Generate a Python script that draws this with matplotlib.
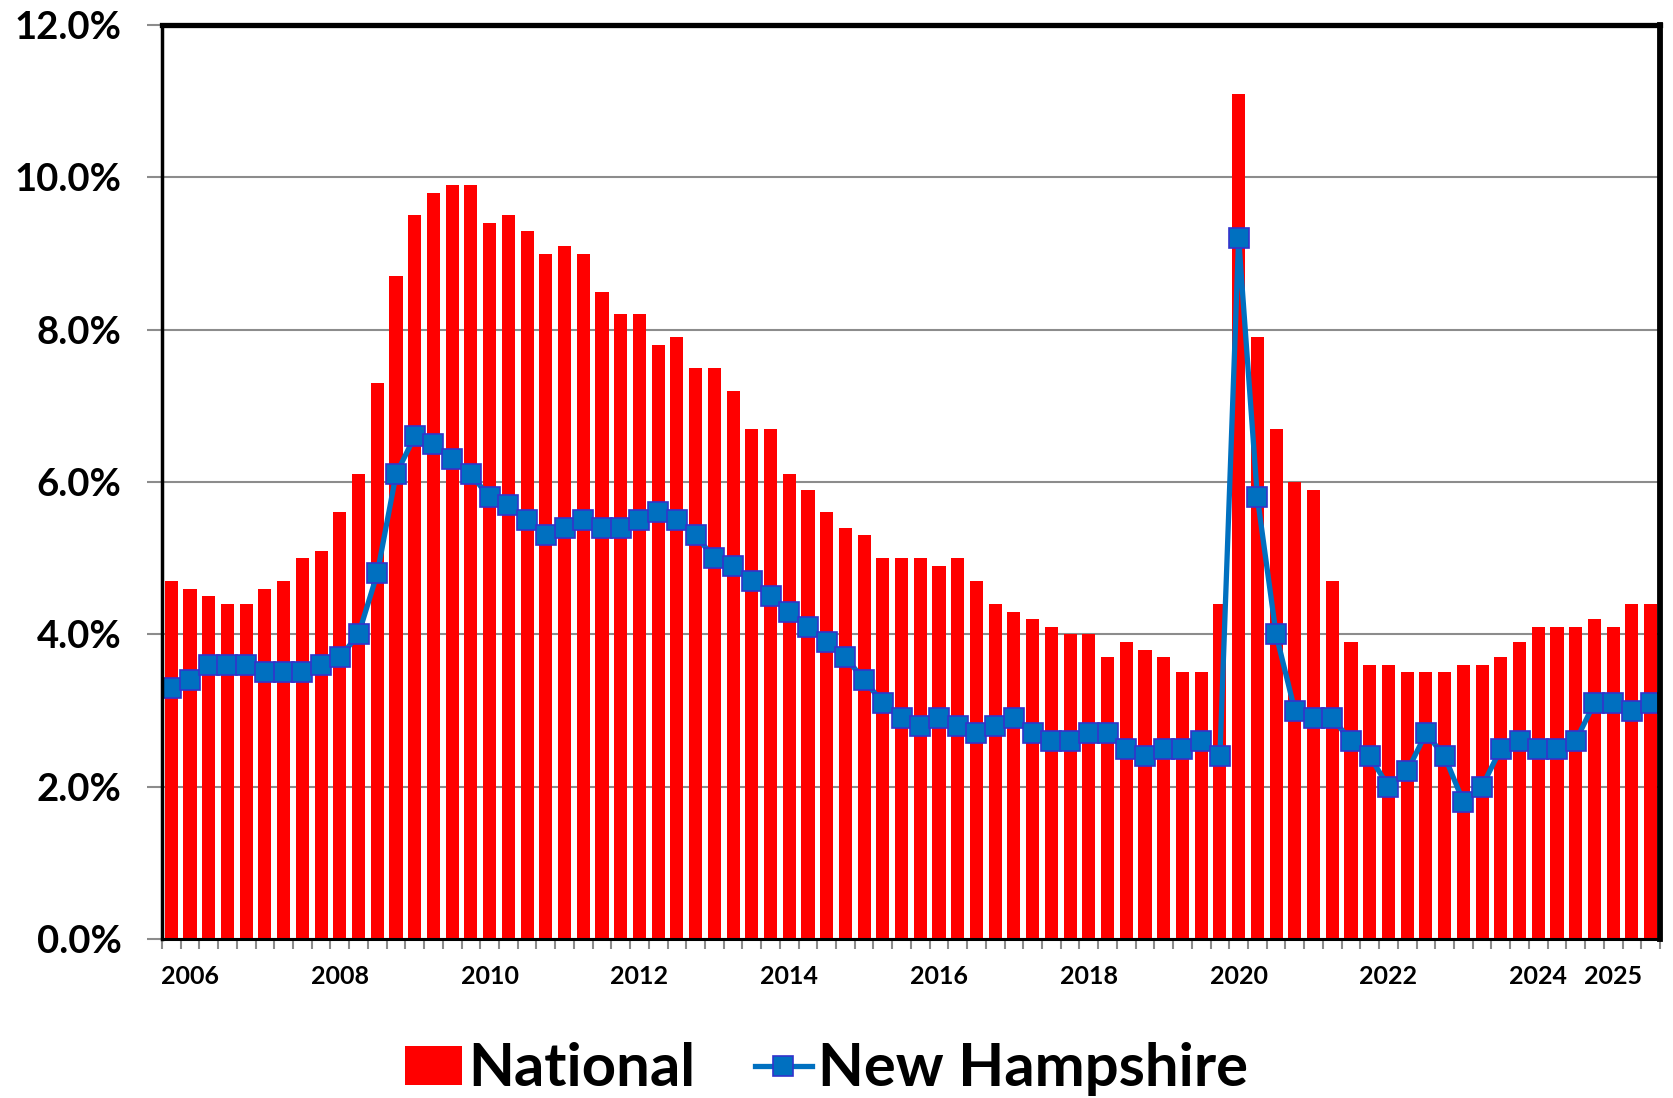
import numpy as np
import matplotlib
matplotlib.use('Agg')
import matplotlib.pyplot as plt
from matplotlib.ticker import FixedLocator, FuncFormatter

plt.rcParams['font.family'] = ['Lato', 'DejaVu Sans']
plt.rcParams['font.weight'] = 'bold'

# quarterly unemployment rate, 2006 Q1 .. 2025 Q4
quarters = [f'{y} Q{q}' for y in range(2006, 2026) for q in range(1, 5)]

national = [4.7, 4.6, 4.5, 4.4, 4.4, 4.6, 4.7, 5.0, 5.1, 5.6, 6.1, 7.3,
            8.7, 9.5, 9.8, 9.9, 9.9, 9.4, 9.5, 9.3, 9.0, 9.1, 9.0, 8.5,
            8.2, 8.2, 7.8, 7.9, 7.5, 7.5, 7.2, 6.7, 6.7, 6.1, 5.9, 5.6,
            5.4, 5.3, 5.0, 5.0, 5.0, 4.9, 5.0, 4.7, 4.4, 4.3, 4.2, 4.1,
            4.0, 4.0, 3.7, 3.9, 3.8, 3.7, 3.5, 3.5, 4.4, 11.1, 7.9, 6.7,
            6.0, 5.9, 4.7, 3.9, 3.6, 3.6, 3.5, 3.5, 3.5, 3.6, 3.6, 3.7,
            3.9, 4.1, 4.1, 4.1, 4.2, 4.1, 4.4, 4.4]

new_hampshire = [3.3, 3.4, 3.6, 3.6, 3.6, 3.5, 3.5, 3.5, 3.6, 3.7, 4.0, 4.8,
                 6.1, 6.6, 6.5, 6.3, 6.1, 5.8, 5.7, 5.5, 5.3, 5.4, 5.5, 5.4,
                 5.4, 5.5, 5.6, 5.5, 5.3, 5.0, 4.9, 4.7, 4.5, 4.3, 4.1, 3.9,
                 3.7, 3.4, 3.1, 2.9, 2.8, 2.9, 2.8, 2.7, 2.8, 2.9, 2.7, 2.6,
                 2.6, 2.7, 2.7, 2.5, 2.4, 2.5, 2.5, 2.6, 2.4, 9.2, 5.8, 4.0,
                 3.0, 2.9, 2.9, 2.6, 2.4, 2.0, 2.2, 2.7, 2.4, 1.8, 2.0, 2.5,
                 2.6, 2.5, 2.5, 2.6, 3.1, 3.1, 3.0, 3.1]

year_labels = ['2006', '2008', '2010', '2012', '2014', '2016', '2018',
               '2020', '2022', '2024', '2025']

x = np.arange(len(quarters))
# year labels sit under the Q2 bar of that year
label_pos = [quarters.index(y + ' Q2') for y in year_labels]

fig = plt.figure(figsize=(16.73, 10.98), dpi=100)
ax = fig.add_axes([0.0968, 0.1448, 0.8954, 0.8324])

bars = ax.bar(x, national, width=0.7, color='#FF0000', label='National', zorder=2)
line, = ax.plot(x, new_hampshire, color='#0070C0', lw=3.8, marker='s', markersize=15,
                markerfacecolor='#0070C0', markeredgecolor='#3333CC', markeredgewidth=1.2,
                label='New Hampshire', zorder=3)

ax.set_xlim(-0.5, len(quarters) - 0.5)
ax.set_ylim(0, 12)
ax.set_yticks(np.arange(0, 12.1, 2))
ax.yaxis.set_major_formatter(FuncFormatter(lambda v, p: f'{v:.1f}%'))
ax.yaxis.grid(True, color='#8C8C8C', lw=1.5, zorder=0)
ax.set_axisbelow(True)

ax.xaxis.set_major_locator(FixedLocator(label_pos))
ax.set_xticklabels(year_labels)
ax.xaxis.set_minor_locator(FixedLocator(np.arange(-0.5, len(quarters), 1)))
ax.tick_params(axis='x', which='major', length=0, pad=19, labelsize=18)
ax.tick_params(axis='x', which='minor', length=7, width=1.5, color='#8C8C8C')
ax.tick_params(axis='y', length=11, width=1.5, color='#8C8C8C', pad=18, labelsize=27.5)

for side, w in [('top', 3.8), ('right', 4.2), ('left', 2.5), ('bottom', 2.2)]:
    ax.spines[side].set_linewidth(w)
    ax.spines[side].set_color('black')
    ax.spines[side].set_zorder(4)

fig.legend([bars, line], ['National', 'New Hampshire'], loc='center',
           bbox_to_anchor=(0.494, 0.026), ncol=2, frameon=False,
           prop={'size': 43, 'weight': 'bold'}, handlelength=0.95, handleheight=0.65,
           handletextpad=0.1, columnspacing=1.0)

fig.savefig('out.png', dpi=100)
